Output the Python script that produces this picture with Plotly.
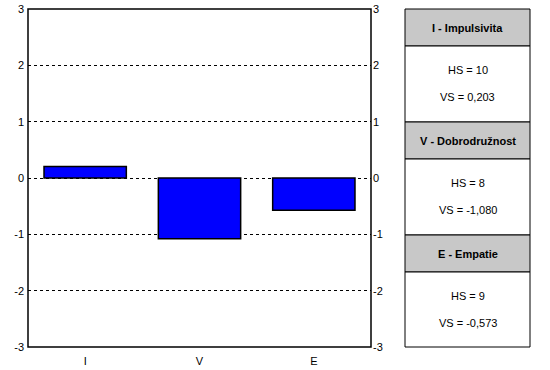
import plotly.graph_objects as go

categories = ["I", "V", "E"]
values = [0.203, -1.080, -0.573]
titles = ["I - Impulsivita", "V - Dobrodružnost", "E - Empatie"]
hs_values = [10, 8, 9]
y_ticks = [-3, -2, -1, 0, 1, 2, 3]

FONT = "Liberation Sans, Arial, sans-serif"
W, H = 550, 370
# plot area in pixels
L, R, T, B = 28, 371, 9, 347

def px_x(px):
    return (px - L) / (R - L)

def px_y(py):
    return (B - py) / (B - T)

fig = go.Figure()
fig.add_trace(go.Bar(
    x=categories, y=values,
    marker=dict(color="#0000ff", line=dict(color="black", width=1.5)),
    showlegend=False, hoverinfo="skip",
))
fig.add_trace(go.Scatter(
    x=categories, y=values, yaxis="y2", mode="markers",
    marker=dict(opacity=0), showlegend=False, hoverinfo="skip",
))

axis_common = dict(
    range=[-3, 3], tickvals=y_ticks, ticktext=[str(v) for v in y_ticks],
    zeroline=False, showline=False, ticks="", automargin=False,
    ticklabeloverflow="allow",
    tickfont=dict(family=FONT, size=11, color="black"),
)
fig.update_layout(
    width=W, height=H,
    margin=dict(l=L, r=W - R, t=T, b=H - B, pad=0),
    paper_bgcolor="white", plot_bgcolor="white",
    bargap=0.28,
    xaxis=dict(showgrid=False, showline=False, ticks="", automargin=False,
               ticklabelstandoff=6,
               tickfont=dict(family=FONT, size=11, color="black")),
    yaxis=dict(showgrid=True, gridcolor="black", gridwidth=1, griddash="3px,3px",
               ticklabelstandoff=3, **axis_common),
    yaxis2=dict(overlaying="y", side="right", showgrid=False, ticklabelstandoff=1,
                **axis_common),
    font=dict(family=FONT, size=11, color="black"),
)

shapes = []
shapes.append(dict(type="rect", xref="paper", yref="paper", x0=0, x1=1, y0=0, y1=1,
                   line=dict(color="black", width=1.5), fillcolor="rgba(0,0,0,0)", layer="above"))

tx0, tx1 = px_x(405), px_x(530)
sec_tops = [9, 122, 235]
sec_bottoms = [122, 235, 347]
annotations = []
for i, title in enumerate(titles):
    top = sec_tops[i]
    bot = sec_bottoms[i]
    shapes.append(dict(type="rect", xref="paper", yref="paper", x0=tx0, x1=tx1,
                       y0=px_y(top + 37), y1=px_y(top), fillcolor="#c8c8c8",
                       line=dict(color="black", width=1)))
    shapes.append(dict(type="rect", xref="paper", yref="paper", x0=tx0, x1=tx1,
                       y0=px_y(bot), y1=px_y(top + 37), fillcolor="white",
                       line=dict(color="black", width=1)))
    xc = (tx0 + tx1) / 2
    common = dict(x=xc, xref="paper", yref="paper", showarrow=False,
                  xanchor="center", yanchor="middle",
                  font=dict(family=FONT, size=11, color="black"))
    annotations.append(dict(y=px_y(top + 19), text="<b>" + title + "</b>", **common))
    annotations.append(dict(y=px_y(top + 61), text="HS = " + str(hs_values[i]), **common))
    vs = ("%.3f" % values[i]).replace(".", ",")
    annotations.append(dict(y=px_y(top + 88), text="VS = " + vs, **common))

fig.update_layout(shapes=shapes, annotations=annotations)
fig.write_html("out.html", config={"displayModeBar": False},
               post_script="document.body.style.margin='0';")
